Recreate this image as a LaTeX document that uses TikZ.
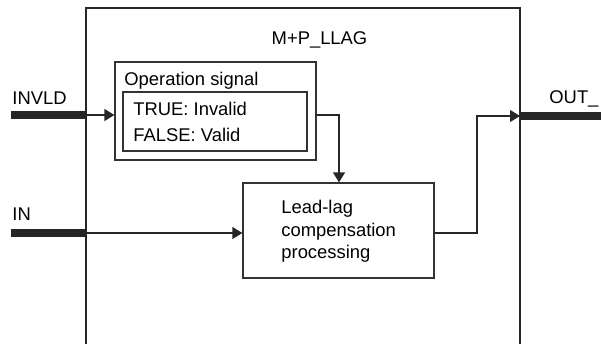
\documentclass[tikz,border=0pt]{standalone}
\usepackage{fontspec}
\setmainfont{Liberation Sans}
\usetikzlibrary{arrows.meta}

\begin{document}
\begin{tikzpicture}[x=0.5pt,y=-0.5pt,
    font=\fontsize{9.2}{11.25}\selectfont,
    box/.style={draw=black!80,line width=0.65pt,inner sep=0pt},
    txt/.style={anchor=base west,inner sep=0pt},
    bus/.style={line width=4pt,black!85},
    sig/.style={line width=0.65pt,black!85},
    arr/.style={sig,-{Triangle[length=5pt,width=6pt]}}]
    \useasboundingbox (0,0) rectangle (601,344);

    % function block frame, open at the bottom
    \draw[sig] (86,344) -- (86,8) -- (520,8) -- (520,344);
    \node[anchor=base,inner sep=0pt] (title) at (319.5,44) {M+P\_LLAG};

    \node[box,minimum width=100.5pt,minimum height=49pt] (opbox) at (215.5,111) {};
    \node[box,minimum width=92pt,minimum height=29.5pt] (opstate) at (215,121.5) {};
    \node[txt] (opname) at (124,85) {Operation signal};
    \node[txt] (optrue) at (133,115) {TRUE: Invalid};
    \node[txt] (opfalse) at (133,141) {FALSE: Valid};

    \node[box,minimum width=95.5pt,minimum height=47.5pt] (lead) at (338.5,230.5) {};
    \node[align=left,anchor=north west,inner sep=0pt] (leadtxt) at (281,200)
        {Lead-lag\\compensation\\processing};

    \node[txt] (invld) at (12,104) {INVLD};
    \node[txt] (in) at (12,220) {IN};
    \node[txt] (out) at (549,103) {OUT\_};

    \coordinate (invldend) at (11,115);
    \coordinate (inend) at (11,233);
    \coordinate (outend) at (601,116);
    \coordinate (invldport) at (86,115);
    \coordinate (inport) at (86,233);
    \coordinate (outport) at (520,116);
    \coordinate (opturn) at (339,115);
    \coordinate (leadturn) at (477,233);

    \draw[bus] (invldend) -- (invldport);
    \draw[bus] (inend) -- (inport);
    \draw[bus] (outport) -- (outend);

    \draw[arr] (invldport) -- (invldport -| opbox.west);
    \draw[arr] (inport) -- (inport -| lead.west);
    \draw[arr] (opbox.east |- invldport) -| (lead.north -| opturn);
    \draw[arr] (lead.east |- inport) -| (leadturn |- outport) -- (outport);
\end{tikzpicture}
\end{document}
